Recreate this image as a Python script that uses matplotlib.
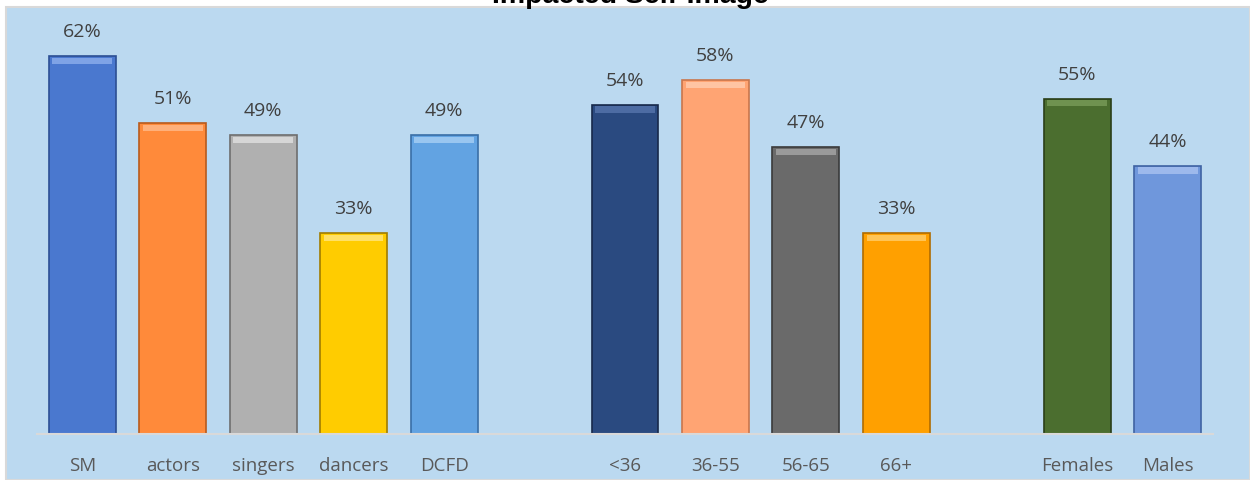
import matplotlib.pyplot as plt
from matplotlib.patches import Rectangle

categories = ["SM", "actors", "singers", "dancers", "DCFD", "",
              "<36", "36-55", "56-65", "66+", "",
              "Females", "Males"]
values = [62, 51, 49, 33, 49, None, 54, 58, 47, 33, None, 55, 44]
colors = ["#4A78CF", "#FF8A3A", "#B0B0B0", "#FFCC00", "#62A3E2", None,
          "#2A4A80", "#FFA473", "#6A6A6A", "#FFA000", None,
          "#4B6E2F", "#6F97DC"]
edges = ["#2C4F94", "#B85A1C", "#6E6E6E", "#A07C00", "#3A6FA6", None,
         "#17294A", "#C9764C", "#3A3A3A", "#B06C00", None,
         "#2A3F19", "#3F63A3"]
tops = ["#7FA3E6", "#FFB07A", "#D6D6D6", "#FFE066", "#99C6F0", None,
        "#4D6CA3", "#FFC4A3", "#9A9A9A", "#FFC455", None,
        "#6F9250", "#9DB9EC"]


def main():
    fig = plt.figure(figsize=(12.5, 4.81), dpi=100)
    fig.patch.set_facecolor("white")
    # chart area background with thin gray frame
    fig.patches.append(Rectangle((6 / 1250, 0), 1 - 6 / 1250, 1 - 8 / 481,
                                 transform=fig.transFigure, facecolor="#BBD9F0",
                                 edgecolor="#D9D9D9", linewidth=1.5, zorder=-1))

    ax = fig.add_axes([37 / 1250, 1 - 435 / 481, (1213 - 37) / 1250, (435 - 8) / 481])
    ax.set_zorder(2)
    ax.set_facecolor("none")
    ax.set_xlim(-0.5, len(categories) - 0.5)
    ax.set_ylim(0, 70)

    for i, v in enumerate(values):
        if v is None:
            continue
        ax.bar(i, v, width=0.74, color=colors[i], edgecolor=edges[i], linewidth=1.2, zorder=2)
        # bevel highlight near the top
        ax.bar(i, 1.0, bottom=v - 1.3, width=0.66, color=tops[i], linewidth=0, zorder=3)
        ax.text(i, v + 2.6, "{}%".format(v), ha="center", va="bottom",
                fontsize=14, color="#404040", family="Open Sans")

    ax.set_xticks(range(len(categories)))
    ax.set_xticklabels(categories, fontsize=13.5, color="#595959", family="Open Sans")
    ax.tick_params(axis="x", length=0, pad=16)
    ax.set_yticks([])
    for s in ["top", "right", "left"]:
        ax.spines[s].set_visible(False)
    ax.spines["bottom"].set_color("#D9D9D9")
    ax.spines["bottom"].set_linewidth(1.5)

    # title is cut by the top edge in the original too
    fig.text(630 / 1250, 1 - 3 / 481, "Impacted Self-Image", ha="center", va="baseline",
             fontsize=20.5, fontweight="bold", family="Liberation Sans", color="black",
             zorder=5)

    plt.savefig("out.png", dpi=100)


if __name__ == '__main__':
    main()
